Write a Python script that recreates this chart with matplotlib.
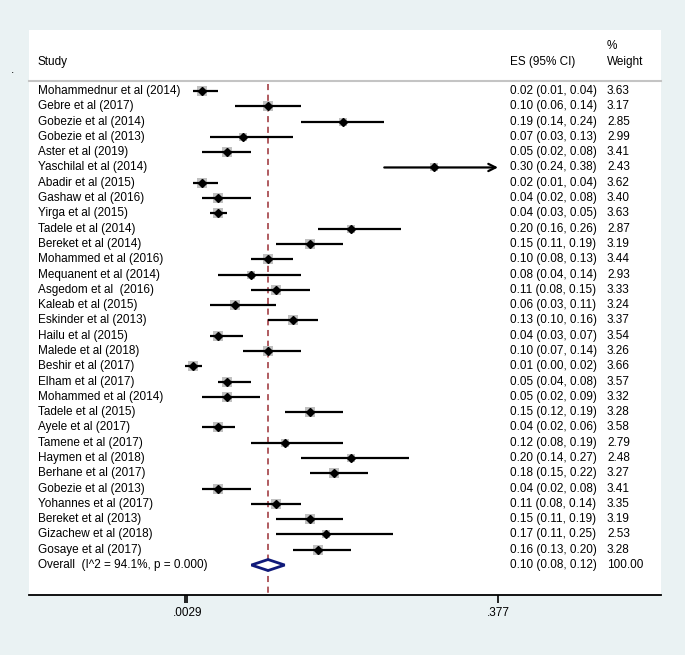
import matplotlib.pyplot as plt
from matplotlib.patches import Polygon
from matplotlib.transforms import blended_transform_factory

plt.rcParams['font.family'] = ['Liberation Sans', 'DejaVu Sans']

# Etudes (ordre du forest plot)
studies = [
    'Mohammednur et al (2014)', 'Gebre et al (2017)', 'Gobezie et al (2014)',
    'Gobezie et al (2013)', 'Aster et al (2019)', 'Yaschilal et al (2014)',
    'Abadir et al (2015)', 'Gashaw et al (2016)', 'Yirga et al (2015)',
    'Tadele et al (2014)', 'Bereket et al (2014)', 'Mohammed et al (2016)',
    'Mequanent et al (2014)', 'Asgedom et al  (2016)', 'Kaleab et al (2015)',
    'Eskinder et al (2013)', 'Hailu et al (2015)', 'Malede et al (2018)',
    'Beshir et al (2017)', 'Elham et al (2017)', 'Mohammed et al (2014)',
    'Tadele et al (2015)', 'Ayele et al (2017)', 'Tamene et al (2017)',
    'Haymen et al (2018)', 'Berhane et al (2017)', 'Gobezie et al (2013)',
    'Yohannes et al (2017)', 'Bereket et al (2013)', 'Gizachew et al (2018)',
    'Gosaye et al (2017)',
]
es = [0.02, 0.10, 0.19, 0.07, 0.05, 0.30, 0.02, 0.04, 0.04, 0.20, 0.15,
      0.10, 0.08, 0.11, 0.06, 0.13, 0.04, 0.10, 0.01, 0.05, 0.05, 0.15,
      0.04, 0.12, 0.20, 0.18, 0.04, 0.11, 0.15, 0.17, 0.16]
ci_lo = [0.01, 0.06, 0.14, 0.03, 0.02, 0.24, 0.01, 0.02, 0.03, 0.16, 0.11,
         0.08, 0.04, 0.08, 0.03, 0.10, 0.03, 0.07, 0.00, 0.04, 0.02, 0.12,
         0.02, 0.08, 0.14, 0.15, 0.02, 0.08, 0.11, 0.11, 0.13]
ci_hi = [0.04, 0.14, 0.24, 0.13, 0.08, 0.38, 0.04, 0.08, 0.05, 0.26, 0.19,
         0.13, 0.14, 0.15, 0.11, 0.16, 0.07, 0.14, 0.02, 0.08, 0.09, 0.19,
         0.06, 0.19, 0.27, 0.22, 0.08, 0.14, 0.19, 0.25, 0.20]
weights = [3.63, 3.17, 2.85, 2.99, 3.41, 2.43, 3.62, 3.40, 3.63, 2.87, 3.19,
           3.44, 2.93, 3.33, 3.24, 3.37, 3.54, 3.26, 3.66, 3.57, 3.32, 3.28,
           3.58, 2.79, 2.48, 3.27, 3.41, 3.35, 3.19, 2.53, 3.28]

overall_label = 'Overall  (I^2 = 94.1%, p = 0.000)'
overall_es, overall_lo, overall_hi = 0.10, 0.08, 0.12
overall_weight = '100.00'

tick_vals = [0, 0.0029, 0.377]
tick_labels = ['', '.0029', '.377']
x_max = 0.377  # borne droite de l'axe (fleche)

fig = plt.figure(figsize=(6.85, 6.55), dpi=100, facecolor='#eaf2f3')
ax = fig.add_axes([29 / 685, 60 / 655, 632 / 685, 565 / 655], facecolor='white')

n = len(studies)
ax.set_xlim(-0.1879, 0.5733)
ax.set_ylim(n + 1.96, -3.99)

trans = blended_transform_factory(ax.transAxes, ax.transData)
fs = 8.5

# En-tete
ax.text(0.014, -1.9, 'Study', transform=trans, fontsize=fs, va='center')
ax.text(0.761, -1.9, 'ES (95% CI)', transform=trans, fontsize=fs, va='center')
ax.text(0.9146, -2.95, '%', transform=trans, fontsize=fs, va='center')
ax.text(0.9146, -1.9, 'Weight', transform=trans, fontsize=fs, va='center')
ax.plot([0, 1], [-0.65, -0.65], transform=trans, color='#c4c4c4', lw=1.5,
        clip_on=False)

# Ligne de l'estimation globale
ax.plot([overall_es, overall_es], [-0.45, n + 1.96], color='#9b2f35', lw=1.1,
        dashes=(4, 3), zorder=1)

for i in range(n):
    ax.scatter(es[i], i, marker='s', s=14 * weights[i], color='#c0c0c0',
               lw=0, zorder=2)
    if ci_hi[i] > x_max:
        ax.annotate('', xy=(x_max, i), xytext=(ci_lo[i], i),
                    arrowprops=dict(arrowstyle='->', lw=1.6, color='black',
                                    mutation_scale=13, shrinkA=0, shrinkB=0),
                    zorder=3)
    else:
        ax.plot([ci_lo[i], ci_hi[i]], [i, i], color='black', lw=1.6,
                solid_capstyle='butt', zorder=3)
    ax.plot(es[i], i, marker='D', ms=3.6, color='black', zorder=4)
    ax.text(0.014, i, studies[i], transform=trans, fontsize=fs, va='center')
    ax.text(0.761, i, f'{es[i]:.2f} ({ci_lo[i]:.2f}, {ci_hi[i]:.2f})',
            transform=trans, fontsize=fs, va='center')
    ax.text(0.9146, i, f'{weights[i]:.2f}', transform=trans, fontsize=fs,
            va='center')

# Diamant global
yo = n
h = 0.36
diamond = Polygon([(overall_lo, yo), (overall_es, yo - h), (overall_hi, yo),
                   (overall_es, yo + h)], closed=True, facecolor='white',
                  edgecolor='#101a7a', lw=2, zorder=4)
ax.add_patch(diamond)
ax.text(0.014, yo, overall_label, transform=trans, fontsize=fs, va='center')
ax.text(0.761, yo, f'{overall_es:.2f} ({overall_lo:.2f}, {overall_hi:.2f})',
        transform=trans, fontsize=fs, va='center')
ax.text(0.9146, yo, overall_weight, transform=trans, fontsize=fs, va='center')

# Axe
for s in ['top', 'left', 'right']:
    ax.spines[s].set_visible(False)
ax.spines['bottom'].set_linewidth(1.3)
ax.set_yticks([])
ax.set_xticks(tick_vals)
ax.set_xticklabels(tick_labels, fontsize=fs)
ax.tick_params(axis='x', length=6, width=1.2, pad=3)

fig.text(12 / 685, 1 - 70 / 655, '.', fontsize=fs, ha='center', va='center')

fig.savefig('out.png', dpi=100, facecolor=fig.get_facecolor())
